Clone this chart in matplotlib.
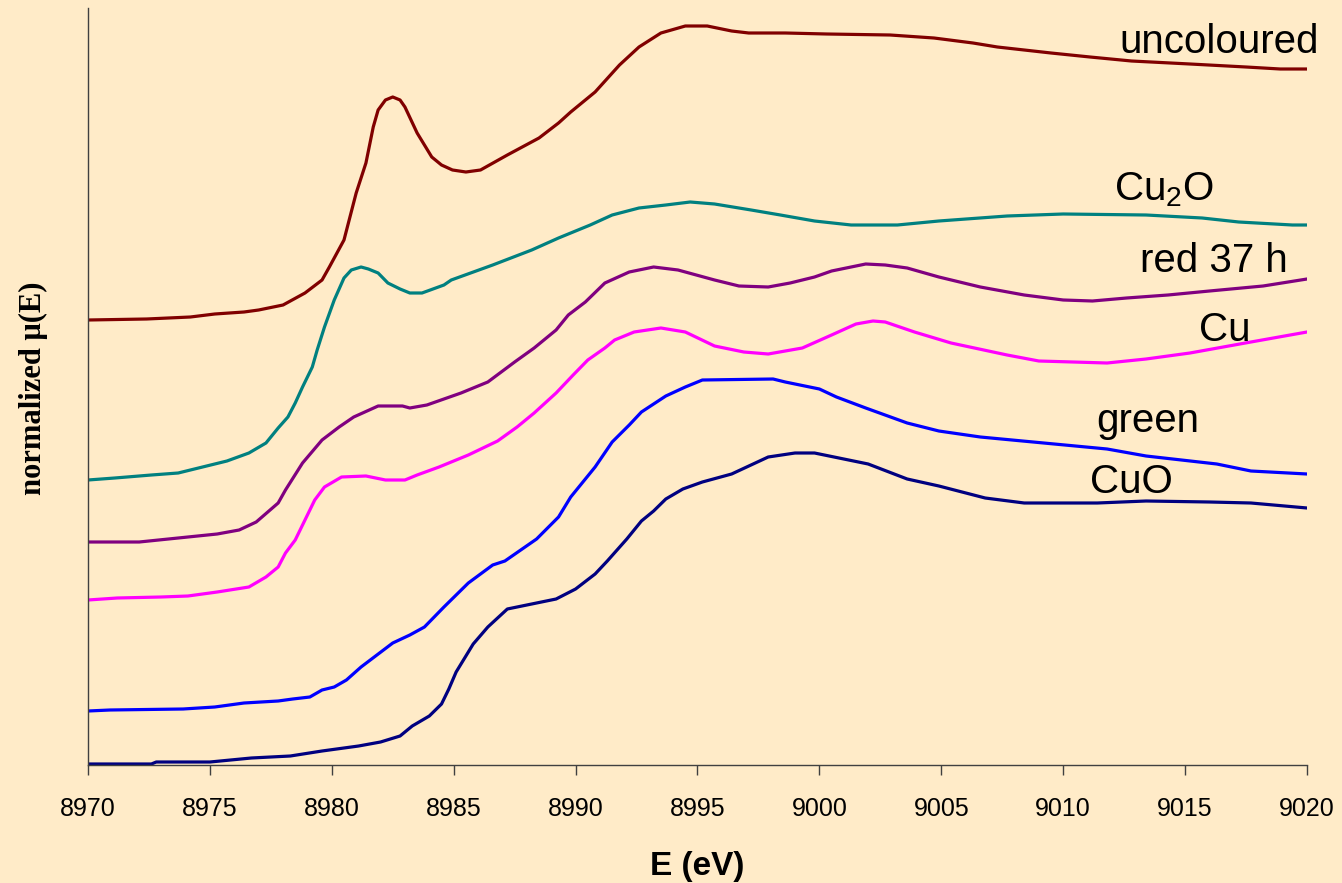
import numpy as np
import matplotlib
matplotlib.use("Agg")
import matplotlib.pyplot as plt

# normalized absorption (arbitrary offset units)
e_uncol = [8970, 8972.4, 8974.2, 8975.2, 8976.4, 8977, 8978, 8978.9, 8979.6, 8979.9,
           8980.5, 8981, 8981.4, 8981.7, 8981.9, 8982.2, 8982.5, 8982.8, 8983, 8983.5,
           8984.1, 8984.5, 8984.95, 8985.5, 8986.1, 8987.2, 8988.5, 8989.3, 8989.8, 8990.8,
           8991.8, 8992.6, 8993.5, 8994.5, 8995.4, 8996.4, 8997.1, 8998.6, 9000.3, 9002.9,
           9004.7, 9006.3, 9007.3, 9009.5, 9011.1, 9012.8, 9015.2, 9017.5, 9018.9, 9020]
mu_uncol = [4.45, 4.46, 4.48, 4.51, 4.53, 4.55, 4.60, 4.72, 4.85, 4.98,
            5.25, 5.72, 6.02, 6.38, 6.55, 6.65, 6.68, 6.65, 6.58, 6.32,
            6.08, 6.00, 5.95, 5.93, 5.95, 6.10, 6.27, 6.42, 6.53, 6.73,
            7.00, 7.18, 7.32, 7.39, 7.39, 7.34, 7.32, 7.32, 7.31, 7.30,
            7.27, 7.22, 7.18, 7.12, 7.08, 7.04, 7.01, 6.98, 6.96, 6.96]

e_cu2o = [8970, 8971.1, 8972.6, 8973.7, 8975.7, 8976.6, 8977.3, 8977.8, 8978.2, 8978.5,
          8978.8, 8979.2, 8979.4, 8979.7, 8980.1, 8980.5, 8980.8, 8981.2, 8981.5, 8981.9,
          8982.3, 8982.8, 8983.2, 8983.7, 8984.6, 8984.9, 8986.6, 8988.2, 8989.3, 8990.6,
          8991.5, 8992.6, 8993.7, 8994.7, 8995.7, 8997.2, 8998.4, 8999.8, 9001.3, 9003.2,
          9004.9, 9007.7, 9010, 9013.4, 9015.7, 9017.2, 9019.4, 9020]
mu_cu2o = [2.85, 2.87, 2.90, 2.92, 3.04, 3.12, 3.22, 3.37, 3.48, 3.62,
           3.78, 3.98, 4.15, 4.38, 4.65, 4.87, 4.95, 4.98, 4.96, 4.92,
           4.82, 4.76, 4.72, 4.72, 4.80, 4.85, 5.00, 5.15, 5.27, 5.40,
           5.50, 5.57, 5.60, 5.63, 5.61, 5.55, 5.50, 5.44, 5.40, 5.40,
           5.44, 5.49, 5.51, 5.50, 5.47, 5.43, 5.40, 5.40]

e_red = [8970, 8972.1, 8973.3, 8975.3, 8976.2, 8976.9, 8977.8, 8978.1, 8978.8, 8979.6,
         8980.3, 8980.9, 8981.9, 8982.9, 8983.2, 8983.9, 8985.3, 8986.4, 8987.5, 8988.3,
         8989.2, 8989.7, 8990.4, 8991.2, 8992.2, 8993.2, 8994.2, 8995.7, 8996.7, 8997.9,
         8998.8, 8999.8, 9000.5, 9001.9, 9002.7, 9003.6, 9004.9, 9006.6, 9008.4, 9010,
         9011.2, 9012.6, 9014.3, 9016, 9018.2, 9020]
mu_red = [2.23, 2.23, 2.26, 2.31, 2.35, 2.43, 2.62, 2.75, 3.02, 3.25,
          3.38, 3.48, 3.59, 3.59, 3.57, 3.60, 3.72, 3.83, 4.03, 4.17,
          4.35, 4.50, 4.63, 4.82, 4.93, 4.98, 4.95, 4.85, 4.79, 4.78,
          4.82, 4.88, 4.94, 5.01, 5.00, 4.97, 4.88, 4.78, 4.70, 4.65,
          4.64, 4.67, 4.70, 4.74, 4.79, 4.86]

e_cu = [8970, 8971.2, 8973, 8974.1, 8975.3, 8976.6, 8977.3, 8977.8, 8978.1, 8978.5,
        8978.9, 8979.3, 8979.7, 8980.4, 8981.4, 8982.2, 8983, 8983.5, 8984.4, 8985.6,
        8986.8, 8987.6, 8988.3, 8989.2, 8989.9, 8990.5, 8991.2, 8991.6, 8992.4, 8993.5,
        8994.5, 8995.7, 8996.9, 8997.9, 8999.3, 9000.5, 9001.5, 9002.2, 9002.7, 9003.9,
        9005.4, 9007.7, 9009, 9011.8, 9013.4, 9015.2, 9017.7, 9020]
mu_cu = [1.65, 1.67, 1.68, 1.69, 1.73, 1.78, 1.88, 1.98, 2.12, 2.25,
         2.45, 2.65, 2.78, 2.88, 2.89, 2.85, 2.85, 2.90, 2.98, 3.10,
         3.24, 3.38, 3.52, 3.72, 3.90, 4.05, 4.17, 4.25, 4.33, 4.37,
         4.33, 4.19, 4.13, 4.11, 4.17, 4.30, 4.41, 4.44, 4.43, 4.33,
         4.22, 4.10, 4.04, 4.02, 4.06, 4.12, 4.23, 4.33]

e_green = [8970, 8970.9, 8973.9, 8975.2, 8976.4, 8977.8, 8978.4, 8979.1, 8979.6, 8980.1,
           8980.6, 8981.2, 8982.5, 8983.2, 8983.8, 8984.6, 8985.6, 8986.6, 8987.1, 8988.4,
           8989.3, 8989.8, 8990.8, 8991.5, 8992.2, 8992.7, 8993.7, 8994.5, 8995.2, 8998.1,
           8998.6, 9000, 9000.7, 9001.9, 9003.6, 9004.9, 9006.6, 9009.2, 9011.8, 9013.4,
           9016.3, 9017.7, 9020]
mu_green = [0.54, 0.55, 0.56, 0.58, 0.62, 0.64, 0.66, 0.68, 0.75, 0.78,
            0.85, 0.98, 1.22, 1.30, 1.38, 1.58, 1.82, 2.00, 2.04, 2.26,
            2.48, 2.68, 2.98, 3.23, 3.40, 3.53, 3.69, 3.78, 3.85, 3.86,
            3.83, 3.76, 3.68, 3.57, 3.42, 3.34, 3.28, 3.22, 3.16, 3.09,
            3.01, 2.94, 2.91]

e_cuo = [8970, 8972.6, 8972.8, 8975, 8976.7, 8978.3, 8979.6, 8981.1, 8982, 8982.8,
         8983.3, 8984, 8984.5, 8984.8, 8985.1, 8985.8, 8986.4, 8987.2, 8988.2, 8989.2,
         8990, 8990.8, 8991.3, 8992.1, 8992.7, 8993.2, 8993.7, 8994.4, 8995.2, 8996.4,
         8997.9, 8999, 8999.8, 9002, 9003.6, 9004.9, 9006.8, 9008.4, 9011.4, 9013.4,
         9016, 9017.7, 9020]
mu_cuo = [0.01, 0.01, 0.03, 0.03, 0.07, 0.09, 0.14, 0.19, 0.23, 0.29,
          0.39, 0.49, 0.61, 0.76, 0.93, 1.21, 1.38, 1.56, 1.61, 1.66,
          1.76, 1.91, 2.04, 2.26, 2.44, 2.54, 2.66, 2.76, 2.83, 2.91,
          3.08, 3.12, 3.12, 3.01, 2.86, 2.79, 2.67, 2.62, 2.62, 2.64,
          2.63, 2.62, 2.57]

labels = ["uncoloured", "Cu$_2$O", "red 37 h", "Cu", "green", "CuO"]
colors = ["#800000", "#008080", "#800080", "#FF00FF", "#0000FF", "#000080"]

bg = "#FFEBC8"
plt.rcParams["mathtext.default"] = "regular"
plt.rcParams["font.family"] = ["Liberation Sans", "DejaVu Sans"]

fig = plt.figure(figsize=(13.42, 8.83), dpi=100, facecolor=bg)
ax = fig.add_axes([88 / 1342, 118 / 883, 1219 / 1342, 757 / 883])
ax.set_facecolor(bg)

series = [(e_uncol, mu_uncol), (e_cu2o, mu_cu2o), (e_red, mu_red),
          (e_cu, mu_cu), (e_green, mu_green), (e_cuo, mu_cuo)]
for (e, mu), c in zip(series, colors):
    ax.plot(e, mu, color=c, lw=2.3, solid_joinstyle="round")

# curve names at the right end
label_pos = [(9020.5, 7.12), (9016.2, 5.65), (9019.2, 4.93),
             (9017.7, 4.24), (9015.6, 3.33), (9014.5, 2.72)]
for txt, (x, y) in zip(labels, label_pos):
    ax.text(x, y, txt, fontsize=29, ha="right", va="baseline", color="black",
            clip_on=False)

ax.set_xlim(8970, 9020)
ax.set_ylim(0, 7.57)
ax.set_xticks(np.arange(8970, 9021, 5))
ax.set_yticks([])
ax.tick_params(axis="x", direction="out", length=7, width=1, color="#404040",
               labelsize=18, pad=16)
for s in ["top", "right"]:
    ax.spines[s].set_visible(False)
for s in ["left", "bottom"]:
    ax.spines[s].set_color("#404040")
    ax.spines[s].set_linewidth(1.0)

ax.set_xlabel("E (eV)", fontsize=24, fontweight="bold", labelpad=22)
fig.text(33.5 / 1342, 1 - 388 / 883, "normalized μ(E)", rotation=90,
         ha="center", va="center", fontsize=22, fontweight="bold",
         family=["Liberation Serif", "DejaVu Serif"])

fig.savefig("out.png", dpi=100, facecolor=bg)
